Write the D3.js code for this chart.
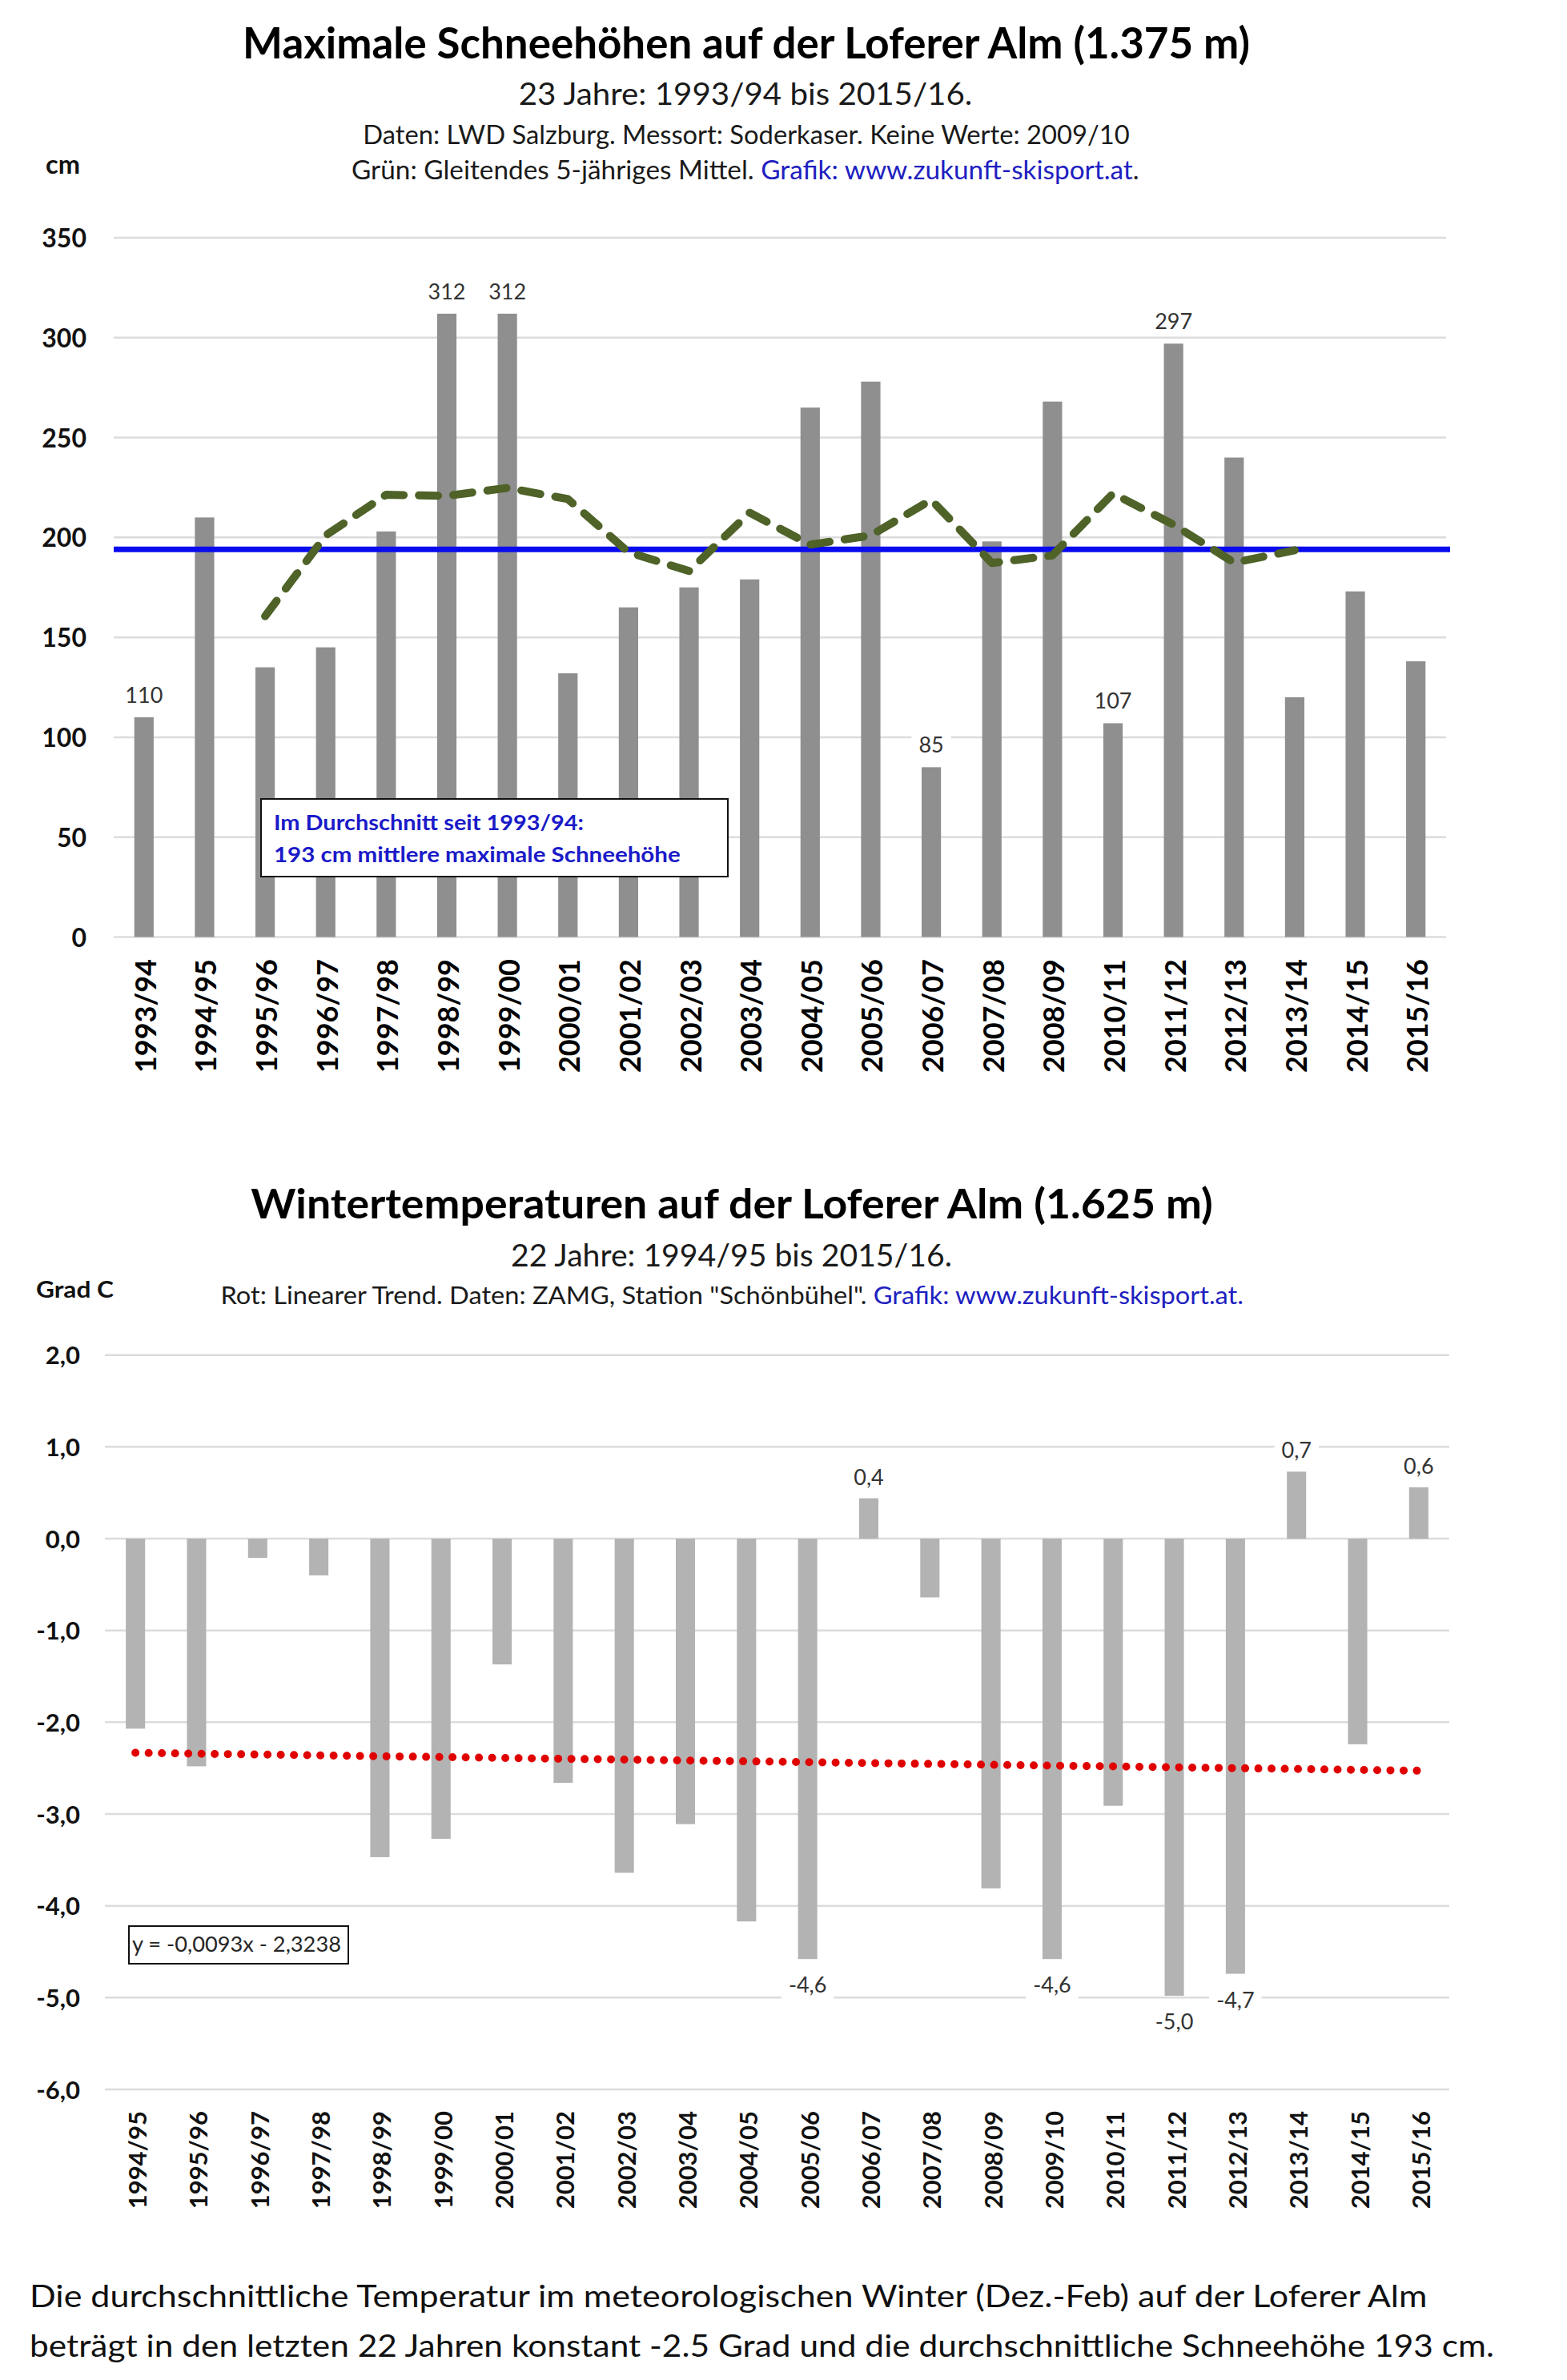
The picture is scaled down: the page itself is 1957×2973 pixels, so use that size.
<!DOCTYPE html>
<html><head><meta charset="utf-8">
<script src="https://cdn.jsdelivr.net/npm/d3@7"></script>
<style>body{margin:0;background:#fff}svg{display:block}</style>
</head><body>
<svg id="c" width="1957" height="2973"></svg>
<script>
// ---------- DATA ----------
const snowCategories = ["1993/94","1994/95","1995/96","1996/97","1997/98","1998/99","1999/00","2000/01","2001/02","2002/03","2003/04","2004/05","2005/06","2006/07","2007/08","2008/09","2010/11","2011/12","2012/13","2013/14","2014/15","2015/16"];
const snowValues = [110,210,135,145,203,312,312,132,165,175,179,265,278,85,198,268,107,297,240,120,173,138];
const snowLabeled = ["1993/94","1998/99","1999/00","2006/07","2010/11","2011/12"];
const movingAvgCategories = ["1995/96","1996/97","1997/98","1998/99","1999/00","2000/01","2001/02","2002/03","2003/04","2004/05","2005/06","2006/07","2007/08","2008/09","2010/11","2011/12","2012/13","2013/14"];
const movingAvgValues = [160.6,201,221.4,220.8,224.8,219.2,192.6,183.2,212.4,196.4,201,218.8,187.2,191,222,206.4,187.4,193.6];
const snowMean = 194;
const snowTicks = [0,50,100,150,200,250,300,350];

const tempCategories = ["1994/95","1995/96","1996/97","1997/98","1998/99","1999/00","2000/01","2001/02","2002/03","2003/04","2004/05","2005/06","2006/07","2007/08","2008/09","2009/10","2010/11","2011/12","2012/13","2013/14","2014/15","2015/16"];
const tempValues = [-2.07,-2.48,-0.21,-0.40,-3.47,-3.27,-1.37,-2.66,-3.64,-3.11,-4.17,-4.58,0.44,-0.64,-3.81,-4.58,-2.91,-4.98,-4.74,0.73,-2.24,0.56];
const tempLabeled = ["2005/06","2006/07","2009/10","2011/12","2012/13","2013/14","2015/16"];
const trendEnds = [-2.333,-2.528];
const tempTicks = [2,1,0,-1,-2,-3,-4,-5,-6];

// ---------- HELPERS ----------
const FONT = "Lato, 'Open Sans', sans-serif";
const svg = d3.select("#c");
svg.append("rect").attr("width",1957).attr("height",2973).attr("fill","#fff");

function fitText(parent, opts) {
  const t = parent.append("text")
    .attr("font-family", FONT)
    .attr("font-size", opts.size)
    .attr("font-weight", opts.weight || "normal")
    .attr("fill", opts.fill || "#111")
    .attr("text-anchor", opts.anchor || "start");
  (opts.parts || [{text: opts.text}]).forEach(p => {
    t.append("tspan").text(p.text).attr("fill", p.fill || null);
  });
  const w = t.node().getComputedTextLength();
  const s = opts.width ? opts.width / w : 1;
  t.attr("transform", `translate(${opts.x},${opts.y}) scale(${s},1)`);
  return t;
}

function labelWithBox(parent, x, y, text, size) {
  const g = parent.append("g");
  const t = g.append("text").attr("x", x).attr("y", y)
    .attr("text-anchor","middle").attr("font-family", FONT)
    .attr("font-size", size).attr("fill","#333").text(text);
  const b = t.node().getBBox();
  g.insert("rect","text").attr("x", b.x-9).attr("y", b.y-2)
    .attr("width", b.width+18).attr("height", b.height+4).attr("fill","#fff");
}
const fmt1 = v => d3.format(".1f")(v).replace(".", ",").replace("−","-");

// ---------- CHART 1 ----------
const c1 = svg.append("g");
fitText(c1,{x:932,y:73,text:"Maximale Schneehöhen auf der Loferer Alm (1.375 m)",size:53,weight:"bold",anchor:"middle",width:1258,fill:"#000"});
fitText(c1,{x:931,y:131,text:"23 Jahre: 1993/94 bis 2015/16.",size:39,anchor:"middle",width:567,fill:"#1a1a1a"});
fitText(c1,{x:932,y:180,text:"Daten: LWD Salzburg. Messort: Soderkaser. Keine Werte: 2009/10",size:32,anchor:"middle",width:958,fill:"#1a1a1a"});
fitText(c1,{x:439,y:224,size:32,anchor:"start",width:984,fill:"#1a1a1a",
  parts:[{text:"Grün: Gleitendes 5-jähriges Mittel. "},{text:"Grafik: www.zukunft-skisport.at",fill:"#2020c0"},{text:"."}]});
fitText(c1,{x:57,y:217,text:"cm",size:33,weight:"bold",anchor:"start",width:43,fill:"#111"});

const x1 = d3.scaleBand().domain(snowCategories).range([142,1806]).paddingInner(0.68).paddingOuter(0.34);
const y1 = d3.scaleLinear().domain([0,350]).range([1170.5,297]);
const bc1 = c => x1(c) + x1.bandwidth()/2;

c1.append("g").selectAll("line").data(snowTicks).join("line")
  .attr("x1",142).attr("x2",1806).attr("y1",d=>y1(d)).attr("y2",d=>y1(d))
  .attr("stroke","#dcdcdc").attr("stroke-width",2.5);

const ya1 = c1.append("g").attr("transform","translate(108,0)")
  .call(d3.axisLeft(y1).tickValues(snowTicks).tickSize(0).tickPadding(0).tickFormat(d3.format("d")));
ya1.select(".domain").remove();
ya1.selectAll("text").attr("font-family",FONT).attr("font-size",32).attr("font-weight","bold")
  .attr("fill","#111").attr("dy","0.36em");

c1.append("g").selectAll("rect").data(snowCategories).join("rect")
  .attr("x",d=>x1(d)).attr("width",x1.bandwidth())
  .attr("y",(d,i)=>y1(snowValues[i])).attr("height",(d,i)=>y1(0)-y1(snowValues[i]))
  .attr("fill","#8f8f8f");

// mean line
c1.append("path").datum([[142,snowMean],[1811,snowMean]])
  .attr("d", d3.line().x(d=>d[0]).y(d=>y1(d[1])))
  .attr("stroke","#0a0af0").attr("stroke-width",7).attr("fill","none");

// moving average
c1.append("path").datum(movingAvgCategories.map((c,i)=>({c, v:movingAvgValues[i]})))
  .attr("d", d3.line().x(d=>bc1(d.c)).y(d=>y1(d.v)))
  .attr("stroke","#4f6228").attr("stroke-width",10).attr("fill","none")
  .attr("stroke-dasharray","24 19").attr("stroke-linecap","round").attr("stroke-linejoin","round");

// data labels
snowCategories.forEach((c,i)=>{
  if (snowLabeled.includes(c)) labelWithBox(c1, bc1(c), y1(snowValues[i]) - 18, String(snowValues[i]), 27);
});

const xa1 = c1.append("g").attr("transform","translate(0,1198)").call(d3.axisBottom(x1).tickSize(0));
xa1.select(".domain").remove();
xa1.selectAll("text").attr("font-family",FONT).attr("font-size",36).attr("font-weight","bold")
  .attr("fill","#000").attr("x",0).attr("y",15).attr("dy",null)
  .attr("text-anchor","end").attr("transform","rotate(-90)");

// annotation box
c1.append("rect").attr("x",326).attr("y",998).attr("width",583).attr("height",97)
  .attr("fill","#fff").attr("stroke","#111").attr("stroke-width",2);
fitText(c1,{x:342,y:1037,text:"Im Durchschnitt seit 1993/94:",size:27,weight:"bold",width:387,fill:"#1a1ac8"});
fitText(c1,{x:342,y:1077,text:"193 cm mittlere maximale Schneehöhe",size:27,weight:"bold",width:508,fill:"#1a1ac8"});

// ---------- CHART 2 ----------
const c2 = svg.append("g");
fitText(c2,{x:914,y:1522,text:"Wintertemperaturen auf der Loferer Alm (1.625 m)",size:52,weight:"bold",anchor:"middle",width:1202,fill:"#000"});
fitText(c2,{x:913.5,y:1582,text:"22 Jahre: 1994/95 bis 2015/16.",size:39,anchor:"middle",width:551,fill:"#1a1a1a"});
fitText(c2,{x:275.5,y:1629,size:30,anchor:"start",width:1278,fill:"#1a1a1a",
  parts:[{text:"Rot: Linearer Trend. Daten: ZAMG, Station \"Schönbühel\". "},{text:"Grafik: www.zukunft-skisport.at.",fill:"#2020c0"}]});
fitText(c2,{x:45,y:1621,text:"Grad C",size:29,weight:"bold",anchor:"start",width:97,fill:"#111"});

const x2 = d3.scaleBand().domain(tempCategories).range([131,1810]).paddingInner(0.685).paddingOuter(0.3425);
const y2 = d3.scaleLinear().domain([-6,2]).range([2610,1692.7]);
const bc2 = c => x2(c) + x2.bandwidth()/2;

c2.append("g").selectAll("line").data(tempTicks).join("line")
  .attr("x1",131).attr("x2",1810).attr("y1",d=>y2(d)).attr("y2",d=>y2(d))
  .attr("stroke","#dcdcdc").attr("stroke-width",2.5);

const ya2 = c2.append("g").attr("transform","translate(100,0)")
  .call(d3.axisLeft(y2).tickValues(tempTicks).tickSize(0).tickPadding(0).tickFormat(fmt1));
ya2.select(".domain").remove();
ya2.selectAll("text").attr("font-family",FONT).attr("font-size",31).attr("font-weight","bold")
  .attr("fill","#111").attr("dy","0.36em");

c2.append("g").selectAll("rect").data(tempCategories).join("rect")
  .attr("x",d=>x2(d)).attr("width",x2.bandwidth())
  .attr("y",(d,i)=>y2(Math.max(0,tempValues[i])))
  .attr("height",(d,i)=>Math.abs(y2(tempValues[i])-y2(0)))
  .attr("fill","#b3b3b3");

// trend line
c2.append("path")
  .datum([{c:tempCategories[0],v:trendEnds[0]},{c:tempCategories[tempCategories.length-1],v:trendEnds[1]}])
  .attr("d", d3.line().x(d=>bc2(d.c)).y(d=>y2(d.v)))
  .attr("stroke","#e00000").attr("stroke-width",10).attr("fill","none")
  .attr("stroke-dasharray","0 16.5").attr("stroke-linecap","round");

tempCategories.forEach((c,i)=>{
  if (!tempLabeled.includes(c)) return;
  const v = tempValues[i];
  const y = v >= 0 ? y2(v) - 17 : y2(v) + 42;
  labelWithBox(c2, bc2(c), y, fmt1(v), 27);
});

const xa2 = c2.append("g").attr("transform","translate(0,2637)").call(d3.axisBottom(x2).tickSize(0));
xa2.select(".domain").remove();
xa2.selectAll("text").attr("font-family",FONT).attr("font-size",31).attr("font-weight","bold")
  .attr("fill","#111").attr("x",0).attr("y",14).attr("dy",null)
  .attr("text-anchor","end").attr("transform","rotate(-90)");

// equation box
c2.append("rect").attr("x",161).attr("y",2406).attr("width",274).attr("height",47)
  .attr("fill","#fff").attr("stroke","#111").attr("stroke-width",2);
fitText(c2,{x:165,y:2438,text:"y = -0,0093x - 2,3238",size:26,width:261,fill:"#262626"});

// ---------- FOOTER ----------
fitText(svg,{x:37,y:2882,text:"Die durchschnittliche Temperatur im meteorologischen Winter (Dez.-Feb) auf der Loferer Alm",size:39,width:1746,fill:"#111"});
fitText(svg,{x:37,y:2944,text:"beträgt in den letzten 22 Jahren konstant -2.5 Grad und die durchschnittliche Schneehöhe 193 cm.",size:39,width:1829,fill:"#111"});
</script>
</body></html>
